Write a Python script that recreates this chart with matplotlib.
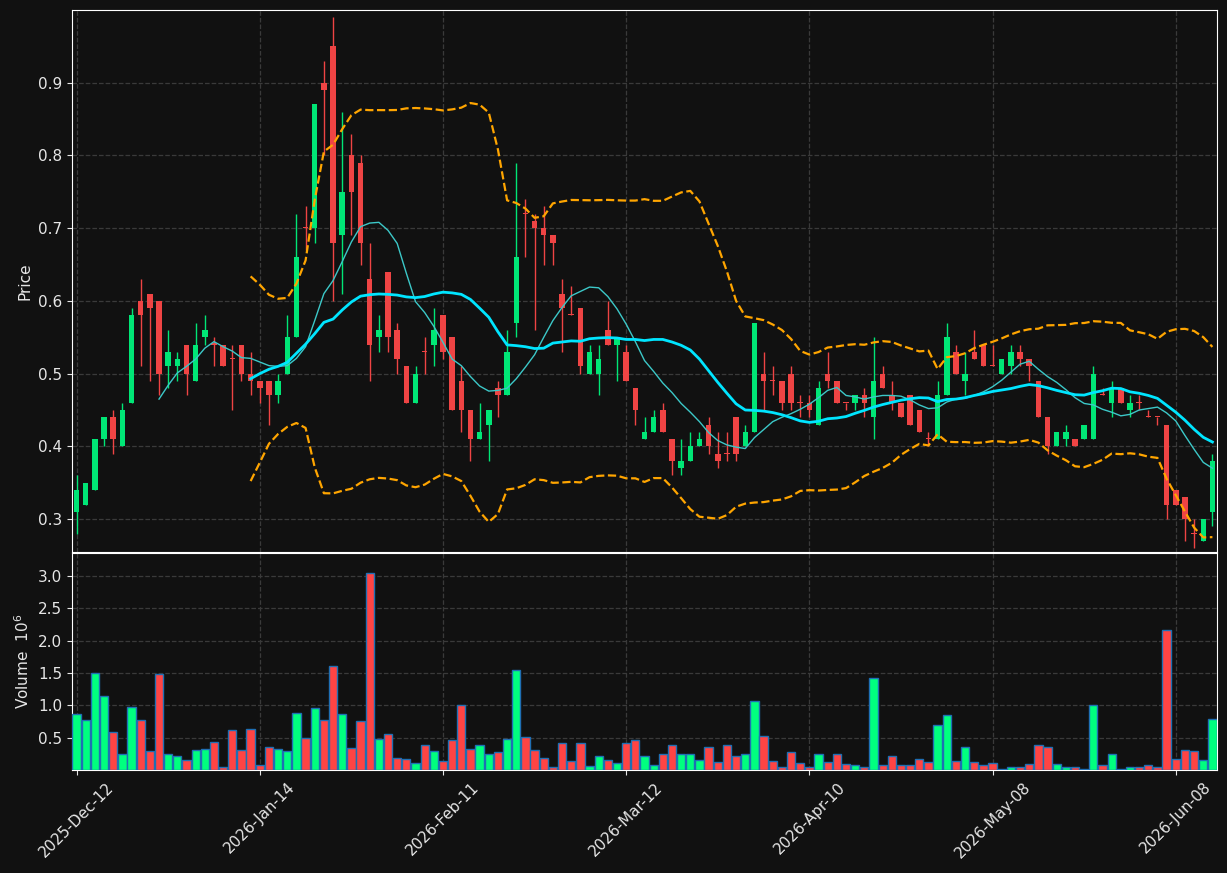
import numpy as np
import pandas as pd
import matplotlib
matplotlib.use("Agg")
import matplotlib.pyplot as plt

opens = [0.31,0.32,0.34,0.41,0.44,0.40,0.46,0.60,0.61,0.60,
         0.51,0.51,0.54,0.49,0.55,0.54,0.54,0.52,0.54,0.50,
         0.49,0.49,0.47,0.50,0.55,0.70,0.70,0.90,0.95,0.69,
         0.80,0.79,0.63,0.55,0.64,0.56,0.51,0.46,0.53,0.54,
         0.58,0.55,0.49,0.45,0.41,0.43,0.48,0.47,0.57,0.72,
         0.71,0.70,0.69,0.61,0.58,0.59,0.50,0.50,0.56,0.54,
         0.53,0.48,0.41,0.42,0.45,0.41,0.37,0.38,0.40,0.43,
         0.39,0.39,0.44,0.40,0.42,0.50,0.49,0.49,0.50,0.46,
         0.46,0.43,0.50,0.49,0.46,0.46,0.47,0.44,0.50,0.47,
         0.46,0.47,0.45,0.41,0.41,0.47,0.53,0.49,0.53,0.54,
         0.51,0.50,0.51,0.53,0.52,0.49,0.44,0.40,0.41,0.41,
         0.41,0.41,0.47,0.46,0.48,0.45,0.46,0.44,0.44,0.43,
         0.34,0.33,0.28,0.27,0.31]
highs = [0.36,0.35,0.41,0.44,0.45,0.46,0.59,0.63,0.61,0.60,
         0.56,0.53,0.54,0.57,0.58,0.55,0.54,0.54,0.54,0.53,
         0.49,0.49,0.50,0.58,0.72,0.73,0.87,0.93,0.99,0.86,
         0.83,0.80,0.68,0.58,0.64,0.57,0.51,0.51,0.55,0.59,
         0.58,0.55,0.51,0.45,0.46,0.45,0.49,0.56,0.79,0.74,
         0.72,0.73,0.69,0.63,0.62,0.59,0.54,0.54,0.60,0.55,
         0.54,0.48,0.44,0.45,0.46,0.41,0.41,0.42,0.42,0.44,
         0.42,0.42,0.44,0.43,0.57,0.53,0.51,0.49,0.51,0.47,
         0.47,0.49,0.53,0.49,0.46,0.47,0.48,0.55,0.51,0.49,
         0.46,0.47,0.45,0.42,0.49,0.57,0.54,0.53,0.56,0.54,
         0.54,0.52,0.54,0.54,0.52,0.49,0.44,0.42,0.43,0.41,
         0.43,0.51,0.48,0.49,0.48,0.47,0.47,0.45,0.44,0.43,
         0.34,0.33,0.30,0.30,0.39]
lows = [0.28,0.32,0.34,0.40,0.39,0.40,0.46,0.51,0.49,0.47,
        0.48,0.49,0.47,0.49,0.54,0.51,0.51,0.45,0.49,0.47,
        0.46,0.43,0.46,0.50,0.55,0.67,0.68,0.80,0.60,0.61,
        0.69,0.65,0.49,0.53,0.53,0.50,0.46,0.46,0.50,0.51,
        0.52,0.45,0.42,0.38,0.41,0.38,0.44,0.47,0.55,0.66,
        0.56,0.65,0.65,0.53,0.58,0.50,0.50,0.47,0.54,0.49,
        0.49,0.43,0.41,0.42,0.42,0.36,0.36,0.38,0.40,0.39,
        0.37,0.38,0.38,0.40,0.42,0.45,0.47,0.45,0.45,0.44,
        0.44,0.43,0.48,0.46,0.45,0.45,0.44,0.41,0.48,0.45,
        0.44,0.43,0.42,0.40,0.41,0.47,0.50,0.47,0.52,0.51,
        0.51,0.50,0.50,0.51,0.49,0.44,0.39,0.40,0.40,0.40,
        0.41,0.41,0.47,0.44,0.46,0.44,0.45,0.44,0.43,0.30,
        0.32,0.27,0.26,0.27,0.29]
closes = [0.34,0.35,0.41,0.44,0.41,0.45,0.58,0.58,0.59,0.50,
          0.53,0.52,0.50,0.54,0.56,0.54,0.51,0.52,0.50,0.49,
          0.48,0.47,0.49,0.55,0.66,0.70,0.87,0.89,0.68,0.75,
          0.75,0.68,0.54,0.56,0.55,0.52,0.46,0.50,0.53,0.56,
          0.53,0.45,0.45,0.41,0.42,0.45,0.47,0.53,0.66,0.72,
          0.70,0.69,0.68,0.59,0.58,0.51,0.53,0.52,0.54,0.55,
          0.49,0.45,0.42,0.44,0.42,0.38,0.38,0.40,0.41,0.40,
          0.38,0.39,0.39,0.42,0.57,0.49,0.49,0.46,0.46,0.46,
          0.45,0.48,0.49,0.46,0.46,0.47,0.46,0.49,0.48,0.46,
          0.44,0.43,0.42,0.41,0.47,0.55,0.50,0.50,0.52,0.51,
          0.51,0.52,0.53,0.52,0.51,0.44,0.40,0.42,0.42,0.40,
          0.43,0.50,0.47,0.48,0.46,0.46,0.46,0.44,0.44,0.32,
          0.32,0.30,0.28,0.30,0.38]
volumes = [0.87,0.78,1.50,1.15,0.58,0.25,0.98,0.78,0.30,1.48,
           0.24,0.21,0.16,0.31,0.33,0.44,0.04,0.62,0.31,0.64,
           0.08,0.36,0.33,0.30,0.88,0.50,0.96,0.78,1.61,0.87,
           0.34,0.75,3.05,0.48,0.56,0.19,0.17,0.11,0.38,0.30,
           0.14,0.47,1.01,0.33,0.38,0.25,0.28,0.48,1.55,0.51,
           0.31,0.19,0.05,0.42,0.14,0.41,0.06,0.21,0.16,0.11,
           0.41,0.47,0.22,0.08,0.25,0.39,0.24,0.25,0.16,0.36,
           0.13,0.38,0.22,0.24,1.07,0.53,0.14,0.04,0.28,0.11,
           0.05,0.25,0.13,0.24,0.10,0.07,0.05,1.42,0.07,0.21,
           0.07,0.07,0.17,0.13,0.70,0.85,0.14,0.36,0.13,0.07,
           0.11,0.02,0.05,0.05,0.10,0.38,0.36,0.10,0.05,0.04,
           0.02,1.01,0.08,0.24,0.02,0.05,0.04,0.07,0.04,2.17,
           0.17,0.31,0.30,0.16,0.79]
tick_labels = ["2025-Dec-12", "2026-Jan-14", "2026-Feb-11", "2026-Mar-12",
               "2026-Apr-10", "2026-May-08", "2026-Jun-08"]

BG = "#111111"
UP_C, DN_C = "#00e676", "#ef4444"
VUP_C, VDN_C = "#00ff7f", "#ff4444"

df = pd.DataFrame({"open": opens, "high": highs, "low": lows,
                   "close": closes, "volume": volumes})
n = len(df)
x = np.arange(n)
up = df["close"] > df["open"]
ma10 = df["close"].rolling(10).mean()
ma20 = df["close"].rolling(20).mean()
sd20 = df["close"].rolling(20).std(ddof=0)
bb_up = ma20 + 2 * sd20
bb_dn = ma20 - 2 * sd20

fig = plt.figure(figsize=(12.27, 8.73), dpi=100, facecolor=BG)
L, R = 72 / 1227, 1217 / 1227
ax = fig.add_axes([L, 1 - 552 / 873, R - L, 542 / 873])
axv = fig.add_axes([L, 1 - 770 / 873, R - L, 217 / 873], sharex=ax)

for a in (ax, axv):
    a.set_facecolor(BG)
    for s in a.spines.values():
        s.set_color("white")
    a.tick_params(colors="#e6e6e6", labelsize=11)
    a.grid(True, linestyle="--", color="#3a3a3a", linewidth=0.9)
    a.set_axisbelow(True)

colors = np.where(up, UP_C, DN_C)
ax.vlines(x, df["low"], df["high"], colors=colors, linewidth=1.0, zorder=2)
body_h = np.maximum((df["close"] - df["open"]).abs(), 0.0015)
body_b = np.minimum(df["open"], df["close"])
ax.bar(x, body_h, bottom=body_b, width=0.6, color=colors, zorder=3)

ax.plot(x, ma10, color="#3cc8c8", linewidth=1.0, zorder=4)
ax.plot(x, ma20, color="#00e5ff", linewidth=2.0, zorder=4)
ax.plot(x, bb_up, color="#ffa500", linewidth=1.6, linestyle="--", zorder=4)
ax.plot(x, bb_dn, color="#ffa500", linewidth=1.6, linestyle="--", zorder=4)

ax.set_ylim(df["low"].min() * 0.98, df["high"].max() * 1.01)
ax.set_ylabel("Price", color="#e6e6e6", fontsize=11)
ax.tick_params(axis="x", labelbottom=False, length=0)

vcolors = np.where(up, VUP_C, VDN_C)
axv.bar(x, df["volume"], width=0.9, color=vcolors, edgecolor="#1f6fb4",
        linewidth=1.0, zorder=3)
axv.set_ylim(0, df["volume"].max() * 1.1)
axv.set_yticks([0.5, 1.0, 1.5, 2.0, 2.5, 3.0])
axv.set_ylabel("Volume  $10^6$", color="#e6e6e6", fontsize=11)

ticks = np.arange(0, n, 20)
axv.set_xticks(ticks)
axv.set_xticklabels(tick_labels, rotation=45, ha="center")
axv.set_xlim(-0.5, n - 0.5)

fig.savefig("out.png", dpi=100, facecolor=BG)
